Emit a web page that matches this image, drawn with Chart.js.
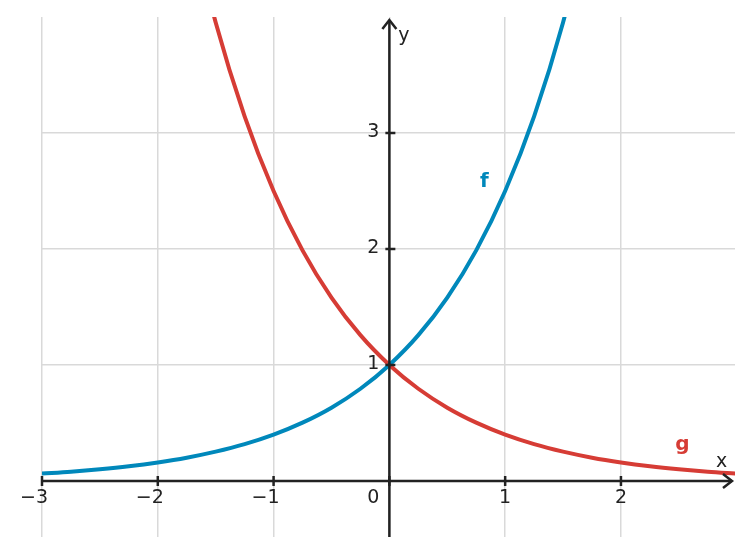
<!DOCTYPE html>
<html>
<head>
<meta charset="utf-8">
<script src="https://cdn.jsdelivr.net/npm/chart.js@4"></script>
<style>
  html, body { margin: 0; padding: 0; background: #fff; }
  #wrap { width: 755px; height: 557px; }
</style>
</head>
<body>
<div id="wrap"><canvas id="expCanvas"></canvas></div>
<script>
// values
const fX = [-3, -2.75, -2.5, -2.25, -2, -1.75, -1.5, -1.25, -1, -0.75, -0.5, -0.25, 0, 0.25, 0.5, 0.75, 1, 1.25, 1.5, 1.75];
const fY = [0.064, 0.08, 0.101, 0.127, 0.16, 0.201, 0.253, 0.318, 0.4, 0.503, 0.632, 0.795, 1, 1.257, 1.581, 1.988, 2.5, 3.144, 3.953, 4.97];
const gX = [-1.75, -1.5, -1.25, -1, -0.75, -0.5, -0.25, 0, 0.25, 0.5, 0.75, 1, 1.25, 1.5, 1.75, 2, 2.25, 2.5, 2.75, 3];
const gY = [4.97, 3.953, 3.144, 2.5, 1.988, 1.581, 1.257, 1, 0.795, 0.632, 0.503, 0.4, 0.318, 0.253, 0.201, 0.16, 0.127, 0.101, 0.08, 0.064];
const xTicks = [-3, -2, -1, 0, 1, 2];
const yTicks = [1, 2, 3];

const BLUE = "#0088bb";
const RED = "#d63c35";
const AXIS = "#222222";
const FONT = "19px 'DejaVu Sans'";

function pts(xs, ys) {
  return xs.map((x, i) => ({ x: x, y: ys[i] }));
}

// axes with arrows, ticks and labels, drawn through the scales
const axesPlugin = {
  id: "axesPlugin",
  afterDatasetsDraw(chart) {
    const ctx = chart.ctx;
    const xs = chart.scales.x, ys = chart.scales.y;
    const ca = chart.chartArea;
    const x0 = xs.getPixelForValue(0), y0 = ys.getPixelForValue(0);
    ctx.save();
    ctx.strokeStyle = AXIS;
    ctx.fillStyle = AXIS;
    ctx.lineWidth = 2.5;
    ctx.lineCap = "butt";
    // x axis
    ctx.beginPath();
    ctx.moveTo(ca.left, y0);
    ctx.lineTo(ca.right - 3, y0);
    ctx.stroke();
    ctx.beginPath();
    ctx.moveTo(ca.right - 12, y0 - 7);
    ctx.lineTo(ca.right - 3, y0);
    ctx.lineTo(ca.right - 12, y0 + 7);
    ctx.stroke();
    // y axis
    ctx.beginPath();
    ctx.moveTo(x0, ca.bottom);
    ctx.lineTo(x0, ca.top + 3);
    ctx.stroke();
    ctx.beginPath();
    ctx.moveTo(x0 - 7, ca.top + 12);
    ctx.lineTo(x0, ca.top + 3);
    ctx.lineTo(x0 + 7, ca.top + 12);
    ctx.stroke();
    // ticks
    xTicks.forEach(v => {
      const px = xs.getPixelForValue(v);
      ctx.beginPath();
      ctx.moveTo(px, y0 - 5);
      ctx.lineTo(px, y0 + 5);
      ctx.stroke();
    });
    yTicks.forEach(v => {
      const py = ys.getPixelForValue(v);
      ctx.beginPath();
      ctx.moveTo(x0 - 4, py);
      ctx.lineTo(x0 + 6, py);
      ctx.stroke();
    });
    // labels
    ctx.font = FONT;
    ctx.fillStyle = "#222";
    ctx.textBaseline = "middle";
    ctx.textAlign = "center";
    xTicks.forEach(v => {
      const px = xs.getPixelForValue(v);
      if (v === 0) {
        ctx.fillText("0", px - 16, y0 + 17);
      } else {
        const t = v < 0 ? "\u2212" + Math.abs(v) : String(v);
        ctx.fillText(t, px - (v < 0 ? 8 : 0), y0 + 17);
      }
    });
    ctx.textAlign = "right";
    yTicks.forEach(v => {
      ctx.fillText(String(v), x0 - 10, ys.getPixelForValue(v) - 1);
    });
    ctx.textAlign = "left";
    ctx.fillText("x", ca.right - 19, y0 - 19);
    ctx.fillText("y", x0 + 9, ca.top + 19);
    // curve names
    ctx.font = "bold 20px 'DejaVu Sans'";
    ctx.textAlign = "center";
    ctx.fillStyle = BLUE;
    ctx.fillText("f", xs.getPixelForValue(0.82), ys.getPixelForValue(2.58));
    ctx.fillStyle = RED;
    ctx.fillText("g", xs.getPixelForValue(2.53), ys.getPixelForValue(0.31));
    ctx.restore();
  }
};

const config = {
  type: "scatter",
  data: {
    datasets: [
      {
        label: "f",
        data: pts(fX, fY),
        showLine: true,
        borderColor: BLUE,
        borderWidth: 4,
        pointRadius: 0,
        cubicInterpolationMode: "monotone",
      },
      {
        label: "g",
        data: pts(gX, gY),
        showLine: true,
        borderColor: RED,
        borderWidth: 4,
        pointRadius: 0,
        cubicInterpolationMode: "monotone",
      },
    ],
  },
  options: {
    responsive: true,
    maintainAspectRatio: false,
    animation: false,
    layout: { padding: { left: 42, right: 20, top: 17, bottom: 20 } },
    plugins: { legend: { display: false }, tooltip: { enabled: false } },
    scales: {
      x: {
        type: "linear",
        min: -3,
        max: 2.985,
        afterBuildTicks: axis => { axis.ticks = xTicks.map(v => ({ value: v })); },
        ticks: { display: false },
        grid: { color: "#d9d9d9", lineWidth: 1.5, drawTicks: false },
        border: { display: false },
      },
      y: {
        type: "linear",
        min: -0.483,
        max: 4,
        afterBuildTicks: axis => { axis.ticks = yTicks.map(v => ({ value: v })); },
        ticks: { display: false },
        grid: { color: "#d9d9d9", lineWidth: 1.5, drawTicks: false },
        border: { display: false },
      },
    },
  },
  plugins: [axesPlugin],
};

const canvas = document.getElementById("expCanvas");
if (canvas) {
  new Chart(canvas.getContext("2d"), config);
} else {
  console.error("canvas not found");
}
</script>
</body>
</html>
